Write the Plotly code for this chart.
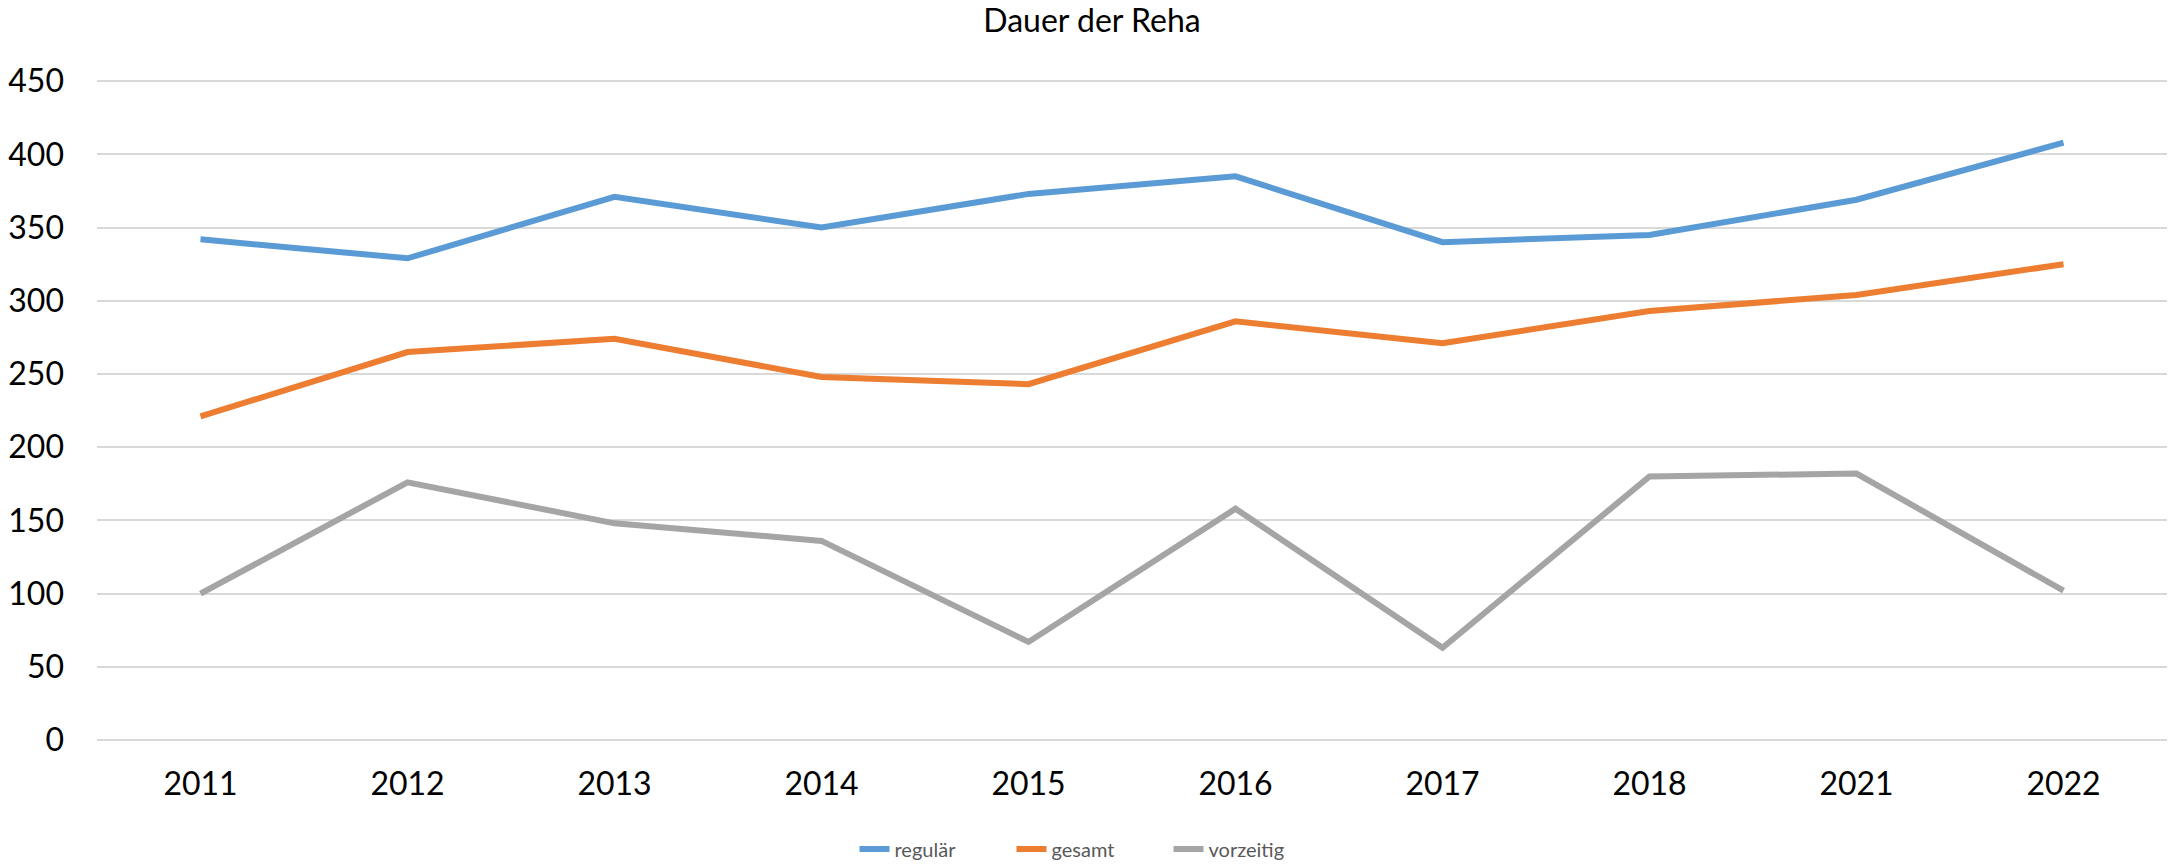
import plotly.graph_objects as go

# Werte
jahre = ["2011", "2012", "2013", "2014", "2015", "2016", "2017", "2018", "2021", "2022"]
regulaer = [342, 329, 371, 350, 373, 385, 340, 345, 369, 408]
gesamt = [221, 265, 274, 248, 243, 286, 271, 293, 304, 325]
vorzeitig = [100, 176, 148, 136, 67, 158, 63, 180, 182, 102]

serien = [
    ("regulär", regulaer, "#5B9BD5"),
    ("gesamt", gesamt, "#ED7D31"),
    ("vorzeitig", vorzeitig, "#A5A5A5"),
]

FONT = "Lato, Carlito, Calibri, sans-serif"

fig = go.Figure()
for name, werte, farbe in serien:
    fig.add_trace(go.Scatter(
        x=jahre,
        y=werte,
        mode="lines",
        name=name,
        line=dict(color=farbe, width=6),
    ))

fig.update_layout(
    width=2168,
    height=865,
    margin=dict(l=97, r=1, t=80, b=125, autoexpand=False),
    paper_bgcolor="white",
    plot_bgcolor="white",
    font=dict(family=FONT, color="black"),
    title=dict(
        text="Dauer der Reha",
        font=dict(family=FONT, size=32, color="black"),
        xref="container", yref="container",
        x=1092 / 2168, y=1 - 21 / 865,
        xanchor="center", yanchor="middle",
    ),
    showlegend=True,
    legend=dict(
        orientation="h",
        xref="container", yref="container",
        x=1090 / 2168, y=16 / 865,
        xanchor="center", yanchor="middle",
        font=dict(family=FONT, size=20, color="#595959"),
        entrywidth=112,
        bgcolor="rgba(0,0,0,0)",
    ),
)

fig.update_xaxes(
    type="category",
    range=[-0.5, len(jahre) - 0.5],
    showgrid=False,
    showline=False,
    zeroline=False,
    tickfont=dict(family=FONT, size=32, color="black"),
    ticklabelstandoff=22,
)

fig.update_yaxes(
    range=[0, 450.8],
    tickvals=[0, 50, 100, 150, 200, 250, 300, 350, 400, 450],
    showgrid=True,
    gridcolor="#D9D9D9",
    gridwidth=2,
    zeroline=True,
    zerolinecolor="#D9D9D9",
    zerolinewidth=2,
    showline=False,
    tickfont=dict(family=FONT, size=32, color="black"),
    ticklabelstandoff=32,
)

# Browser-Standardrand der Seite entfernen
fig.write_html(
    "out.html",
    config={"displayModeBar": False},
    post_script="document.body.style.margin='0';",
)
